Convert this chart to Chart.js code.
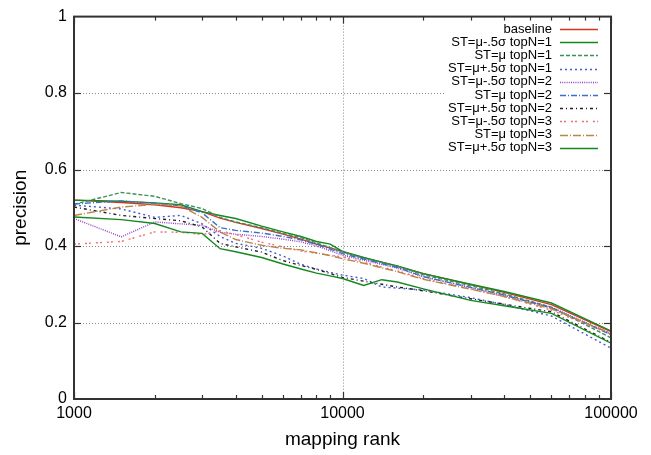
<!DOCTYPE html>
<html>
<head>
<meta charset="utf-8">
<script src="https://cdn.jsdelivr.net/npm/chart.js@4.4.0/dist/chart.umd.min.js"></script>
<style>
  html, body { margin: 0; padding: 0; background: #fff; }
  #wrap { width: 651px; height: 455px; }
</style>
</head>
<body>
<div id="wrap"><canvas id="c" width="651" height="455"></canvas></div>
<script>
// ── precision vs mapping rank, one line per threshold / topN setting ──

const ranks = [1000, 1500, 2000, 2500, 3000, 3500, 4000, 5000, 6000, 7000, 8000, 9000, 10000,
               12000, 14000, 16000, 20000, 30000, 40000, 60000, 100000];

const baseline = [0.520, 0.514, 0.508, 0.500, 0.490, 0.473, 0.462, 0.446, 0.431, 0.418, 0.405, 0.395, 0.385,
                  0.369, 0.358, 0.347, 0.328, 0.299, 0.279, 0.247, 0.176];
const stMinusN1 = [0.520, 0.517, 0.513, 0.508, 0.490, 0.480, 0.472, 0.452, 0.437, 0.425, 0.412, 0.405, 0.386,
                   0.370, 0.358, 0.348, 0.328, 0.300, 0.281, 0.251, 0.178];
const stMeanN1  = [0.509, 0.540, 0.530, 0.511, 0.498, 0.475, 0.463, 0.448, 0.433, 0.422, 0.408, 0.396, 0.385,
                   0.368, 0.357, 0.347, 0.325, 0.296, 0.275, 0.240, 0.160];
const stPlusN1  = [0.507, 0.497, 0.475, 0.480, 0.458, 0.425, 0.407, 0.394, 0.374, 0.352, 0.340, 0.331, 0.324,
                   0.315, 0.293, 0.290, 0.285, 0.265, 0.247, 0.217, 0.133];
const stMinusN2 = [0.472, 0.424, 0.463, 0.458, 0.454, 0.436, 0.431, 0.425, 0.418, 0.411, 0.400, 0.388, 0.376,
                   0.363, 0.352, 0.342, 0.320, 0.291, 0.271, 0.240, 0.170];
const stMeanN2  = [0.510, 0.518, 0.512, 0.505, 0.487, 0.448, 0.441, 0.434, 0.425, 0.416, 0.404, 0.392, 0.380,
                   0.366, 0.354, 0.344, 0.320, 0.292, 0.272, 0.238, 0.168];
const stPlusN2  = [0.502, 0.480, 0.472, 0.466, 0.450, 0.407, 0.398, 0.384, 0.362, 0.349, 0.339, 0.328, 0.318,
                   0.308, 0.300, 0.293, 0.283, 0.262, 0.248, 0.228, 0.148];
const stMinusN3 = [0.405, 0.412, 0.437, 0.436, 0.430, 0.440, 0.430, 0.410, 0.398, 0.387, 0.381, 0.376, 0.372,
                   0.358, 0.345, 0.335, 0.315, 0.288, 0.268, 0.232, 0.170];
const stMeanN3  = [0.480, 0.502, 0.509, 0.505, 0.475, 0.437, 0.417, 0.402, 0.394, 0.390, 0.382, 0.375, 0.367,
                   0.355, 0.343, 0.333, 0.313, 0.287, 0.268, 0.236, 0.172];
const stPlusN3  = [0.476, 0.469, 0.459, 0.437, 0.433, 0.393, 0.385, 0.370, 0.353, 0.340, 0.329, 0.322, 0.315,
                   0.297, 0.312, 0.306, 0.288, 0.258, 0.244, 0.224, 0.146];

const seriesLabels = ['baseline', 'ST=μ-.5σ topN=1', 'ST=μ topN=1', 'ST=μ+.5σ topN=1',
                      'ST=μ-.5σ topN=2', 'ST=μ topN=2', 'ST=μ+.5σ topN=2',
                      'ST=μ-.5σ topN=3', 'ST=μ topN=3', 'ST=μ+.5σ topN=3'];
const seriesValues = [baseline, stMinusN1, stMeanN1, stPlusN1, stMinusN2, stMeanN2, stPlusN2,
                      stMinusN3, stMeanN3, stPlusN3];

const xMajorTicks = [1000, 10000, 100000];
const yTickStep = 0.2;

const FONT = "'Liberation Sans', Arial, sans-serif";

// line look per series: colour + dash
const styles = [
  { color: '#dc3222', dash: [] },
  { color: '#13891f', dash: [] },
  { color: '#3c9060', dash: [4, 2] },
  { color: '#4858d0', dash: [2, 3] },
  { color: '#9040c8', dash: [1, 1.2] },
  { color: '#3a70c8', dash: [6, 2, 1, 2] },
  { color: '#202020', dash: [3, 3, 1, 3] },
  { color: '#f07070', dash: [2, 2, 2, 5] },
  { color: '#b8864b', dash: [8, 2, 1, 2] },
  { color: '#13891f', dash: [] },
];

// minor ticks 2..9 x each decade
const xTickValues = [];
for (let d = 1000; d < 100000; d *= 10) for (let k = 1; k < 10; k++) xTickValues.push(d * k);
xTickValues.push(100000);

const datasets = seriesValues.map((vals, i) => ({
  label: seriesLabels[i],
  data: vals.map((v, j) => ({ x: ranks[j], y: v })),
  borderColor: styles[i].color,
  borderDash: styles[i].dash,
  borderWidth: 1.4,
  pointRadius: 0,
  fill: false,
  tension: 0,
  order: seriesValues.length - i,   // later series on top, like gnuplot
}));

function seg(ctx, x1, y1, x2, y2) {
  ctx.beginPath(); ctx.moveTo(x1, y1); ctx.lineTo(x2, y2); ctx.stroke();
}

const framePlugin = {
  id: 'gnuframe',
  beforeDatasetsDraw(chart) {
    const { ctx, chartArea: a, scales: { x, y } } = chart;
    ctx.save();
    ctx.strokeStyle = '#8a8a8a';
    ctx.lineWidth = 1;
    ctx.setLineDash([1, 2]);
    for (let v = yTickStep; v < 0.99; v += yTickStep) {
      const py = Math.round(y.getPixelForValue(v)) + 0.5;
      seg(ctx, a.left, py, a.right, py);
    }
    xMajorTicks.slice(1, -1).forEach(v => {
      const px = Math.round(x.getPixelForValue(v)) + 0.5;
      seg(ctx, px, a.top, px, a.bottom);
    });
    ctx.restore();
  },
  afterDatasetsDraw(chart) {
    const { ctx, chartArea: a, scales: { x, y } } = chart;
    ctx.save();

    // key box (opaque)
    ctx.fillStyle = '#fff';
    ctx.fillRect(446, 21, 158, 135);
    ctx.font = `13px ${FONT}`;
    ctx.textAlign = 'right';
    ctx.textBaseline = 'middle';
    chart.data.datasets.forEach((ds, i) => {
      const ry = 29 + i * 13.2;
      ctx.fillStyle = '#000';
      ctx.fillText(ds.label, 552, ry);
      ctx.strokeStyle = ds.borderColor;
      ctx.lineWidth = ds.borderWidth;
      ctx.setLineDash(ds.borderDash);
      seg(ctx, 560, Math.round(ry) + 0.5, 598, Math.round(ry) + 0.5);
    });
    ctx.setLineDash([]);

    // border + inward ticks
    ctx.strokeStyle = '#333';
    ctx.lineWidth = 2;
    ctx.strokeRect(a.left, a.top, a.right - a.left, a.bottom - a.top);
    ctx.lineWidth = 1.2;
    x.ticks.forEach(t => {
      const px = Math.round(x.getPixelForValue(t.value)) + 0.5;
      const len = xMajorTicks.includes(t.value) ? 7 : 4;
      seg(ctx, px, a.bottom, px, a.bottom - len);
      seg(ctx, px, a.top, px, a.top + len);
    });
    for (let v = yTickStep; v < 0.99; v += yTickStep) {
      const py = Math.round(y.getPixelForValue(v)) + 0.5;
      seg(ctx, a.left, py, a.left + 7, py);
      seg(ctx, a.right, py, a.right - 7, py);
    }
    ctx.restore();
  }
};

new Chart(document.getElementById('c').getContext('2d'), {
  type: 'line',
  data: { datasets },
  options: {
    responsive: false,
    animation: false,
    layout: { padding: { top: 16, right: 40, left: 0, bottom: 0 } },
    plugins: { legend: { display: false }, tooltip: { enabled: false } },
    scales: {
      x: {
        type: 'logarithmic',
        min: 1000,
        max: 100000,
        afterBuildTicks: s => { s.ticks = xTickValues.map(v => ({ value: v })); },
        afterFit: s => { s.height = 56; },
        grid: { display: false, drawTicks: false },
        border: { display: false },
        ticks: {
          autoSkip: false, maxRotation: 0, padding: 5, color: '#000',
          font: { family: FONT, size: 16 },
          callback: v => xMajorTicks.includes(v) ? String(v) : '',
        },
        title: { display: true, text: 'mapping rank', color: '#000',
                 font: { family: FONT, size: 19 }, padding: { top: 0, bottom: 4 } },
      },
      y: {
        min: 0,
        max: 1,
        afterFit: s => { s.width = 74; },
        grid: { display: false, drawTicks: false },
        border: { display: false },
        ticks: {
          stepSize: yTickStep, padding: 7, color: '#000', font: { family: FONT, size: 16 },
          callback: v => String(Math.round(v * 10) / 10),
        },
        title: { display: true, text: 'precision', color: '#000',
                 font: { family: FONT, size: 19 }, padding: { top: 9, bottom: 0 } },
      },
    },
  },
  plugins: [framePlugin],
});
</script>
</body>
</html>
